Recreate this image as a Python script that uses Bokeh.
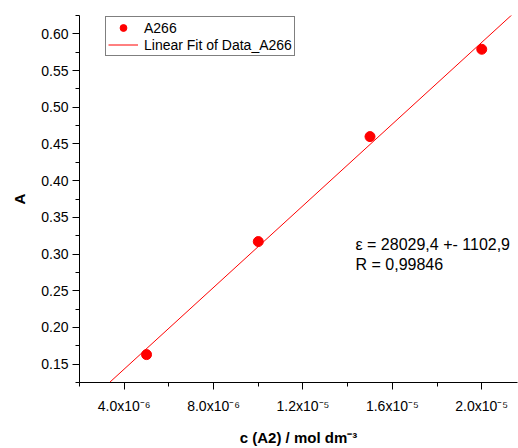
import numpy as np
from bokeh.plotting import figure
from bokeh.models import (FixedTicker, CustomJSTickFormatter, Label, Legend,
                          LegendItem, Range1d, NumeralTickFormatter)
from bokeh.embed import file_html
from bokeh.resources import INLINE

# ---------------- data ----------------
conc = [5.0e-6, 1.0e-5, 1.5e-5, 2.0e-5]          # c (A2) / mol dm-3
absorb = [0.163, 0.317, 0.460, 0.579]           # A
series_name = "A266"
fit_name = "Linear Fit of Data_A266"

x_ticks = [4.0e-6, 8.0e-6, 1.2e-5, 1.6e-5, 2.0e-5]
x_tick_labels = ["4.0x10\u207b\u2076", "8.0x10\u207b\u2076", "1.2x10\u207b\u2075",
                 "1.6x10\u207b\u2075", "2.0x10\u207b\u2075"]
x_minor_ticks = [2.0e-6, 6.0e-6, 1.0e-5, 1.4e-5, 1.8e-5, 2.2e-5]
y_ticks = [0.15, 0.20, 0.25, 0.30, 0.35, 0.40, 0.45, 0.50, 0.55, 0.60]
y_minor_ticks = [0.125, 0.175, 0.225, 0.275, 0.325, 0.375, 0.425, 0.475,
                 0.525, 0.575, 0.625]

eps_text = "\u03b5 = 28029,4 +- 1102,9"
r_text = "R = 0,99846"
x_title = "c (A2) / mol dm\u207b\u00b3"
y_title = "A"

XMIN, XMAX = 2.0e-6, 2.16e-5
YMIN, YMAX = 0.125, 0.625

FONT = "Liberation Sans"

# frame geometry (page pixels) used to place free text
FL, FR, FT, FB = 79, 517, 15, 383
W, H = 518, 448


def px_x(page_x):
    return XMIN + (page_x - FL) / (FR - FL) * (XMAX - XMIN)


def px_y(page_y):
    return YMIN + (FB - page_y) / (FB - FT) * (YMAX - YMIN)


p = figure(width=W, height=H, x_range=Range1d(XMIN, XMAX),
           y_range=Range1d(YMIN, YMAX), output_backend="svg",
           toolbar_location=None, min_border_left=FL, min_border_right=W - FR,
           min_border_top=FT, min_border_bottom=H - FB)
p.outline_line_color = None
p.xgrid.visible = False
p.ygrid.visible = False
p.background_fill_color = "white"
p.border_fill_color = "white"

# fit line from least squares
slope, intercept = np.polyfit(conc, absorb, 1)
fx = np.array([XMIN, XMAX])
fy = intercept + slope * fx
r_line = p.line(fx, fy, color="red", line_width=1)
r_pts = p.scatter(conc, absorb, size=10, color="red", marker="circle")

# axes
for ax in (p.xaxis[0], p.yaxis[0]):
    ax.axis_line_color = "black"
    ax.axis_line_width = 1
    ax.major_tick_line_color = "black"
    ax.minor_tick_line_color = "black"
    ax.major_tick_out = 7
    ax.major_tick_in = 0
    ax.minor_tick_out = 4
    ax.minor_tick_in = 0
    ax.major_label_text_font = FONT
    ax.major_label_text_font_size = "14px"
    ax.major_label_text_color = "black"
    ax.axis_label_text_font = FONT
    ax.axis_label_text_font_style = "bold"
    ax.axis_label_text_font_size = "15px"
    ax.axis_label_text_color = "black"

p.xaxis.ticker = FixedTicker(ticks=x_ticks, minor_ticks=x_minor_ticks)
p.xaxis.formatter = CustomJSTickFormatter(
    args=dict(tvals=x_ticks, tlabels=x_tick_labels),
    code="""
    for (let i = 0; i < tvals.length; i++) {
        if (Math.abs(tvals[i] - tick) < 1e-12) return tlabels[i];
    }
    return '';
    """)
p.xaxis.major_label_standoff = 8
p.xaxis.axis_label = x_title
p.xaxis.axis_label_standoff = 12

p.yaxis.ticker = FixedTicker(ticks=y_ticks, minor_ticks=y_minor_ticks)
p.yaxis.formatter = NumeralTickFormatter(format="0.00")
p.yaxis.major_label_standoff = 4
p.yaxis.axis_label = y_title
p.yaxis.axis_label_standoff = 10

# legend
legend = Legend(items=[LegendItem(label=series_name, renderers=[r_pts]),
                       LegendItem(label=fit_name, renderers=[r_line])],
                location=(26, 326), orientation="vertical")
legend.border_line_color = "black"
legend.border_line_width = 1
legend.background_fill_color = "white"
legend.background_fill_alpha = 1
legend.padding = 2
legend.spacing = 0
legend.margin = 0
legend.glyph_width = 30
legend.glyph_height = 17
legend.label_height = 17
legend.label_standoff = 6
legend.label_text_font = FONT
legend.label_text_font_size = "14px"
legend.label_text_color = "black"
p.add_layout(legend)

# fit annotation
for txt, yy in ((eps_text, 245), (r_text, 265)):
    p.add_layout(Label(x=px_x(355), y=px_y(yy), text=txt, text_font=FONT,
                       text_font_size="16px", text_color="black",
                       text_align="left", text_baseline="middle"))

open("out.html", "w").write(file_html(p, INLINE))
